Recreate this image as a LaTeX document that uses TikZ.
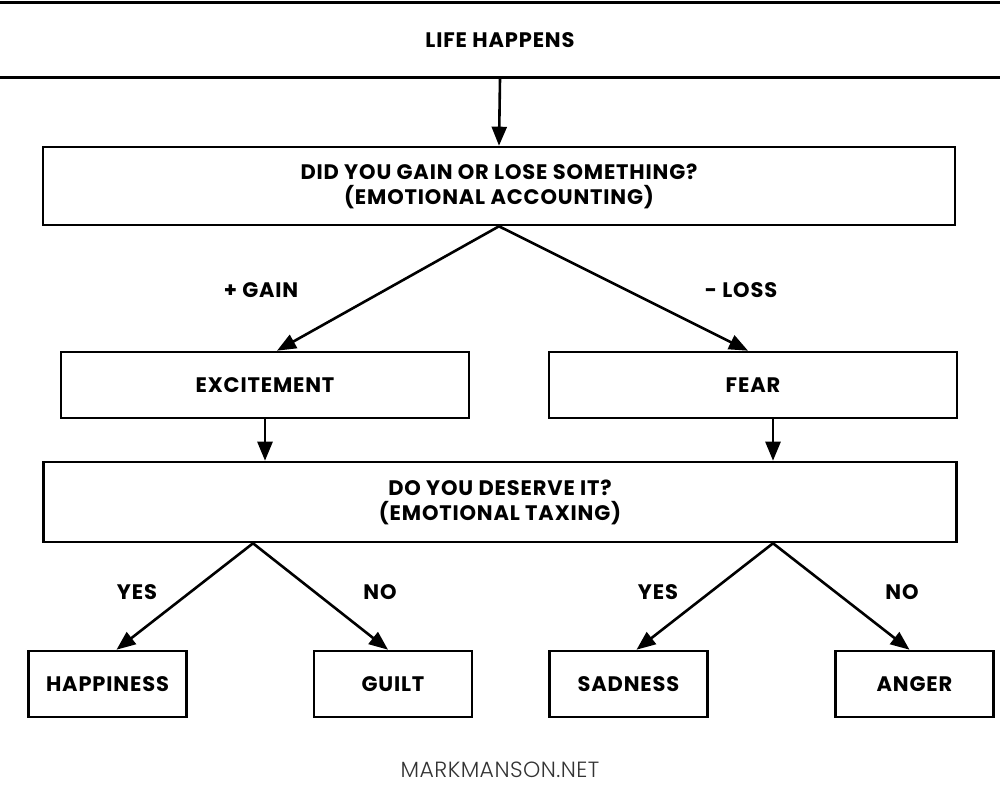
\documentclass[tikz,border=0pt]{standalone}
\usepackage{fontspec}
\setmainfont{Poppins}[LetterSpace=4]
\newfontfamily\sitefont{Poppins Light}[LetterSpace=2]
\usepackage{tikz}
\usetikzlibrary{arrows.meta, positioning, calc}

\begin{document}
\begin{tikzpicture}[
    x=1pt, y=-1pt,
    >={Triangle[length=19pt,width=15pt]},
    box/.style={draw, line width=2.6pt, rectangle, align=center, inner sep=0pt,
        font=\fontsize{21}{25}\selectfont\bfseries},
    wide/.style={box, minimum width=912pt, minimum height=78pt},
    midbox/.style={box, minimum width=408pt, minimum height=66pt},
    leafbox/.style={box, minimum width=158pt, minimum height=66pt},
    lbl/.style={font=\fontsize{21}{25}\selectfont\bfseries},
    conn/.style={->, line width=2.6pt}
]

\clip (0,0) rectangle (1000,800);

% Top question chain
\node[box, minimum width=1040pt, minimum height=75pt] (life) at (500,40) {LIFE HAPPENS};
\node[wide] (acct) at (499,186) {DID YOU GAIN OR LOSE SOMETHING?\\(EMOTIONAL ACCOUNTING)};

% Gain / loss
\node[midbox] (excite) at (265,385) {EXCITEMENT};
\node[midbox] (fear) at (753,385) {FEAR};
\node[lbl] (gain) at (261,290) {+ GAIN};
\node[lbl] (loss) at (741,290) {- LOSS};

% Second question
\node[wide, minimum width=913pt, minimum height=80pt] (tax) at (500,502) {DO YOU DESERVE IT?\\(EMOTIONAL TAXING)};

% Outcomes
\foreach \n/\x/\t in {happy/107.5/HAPPINESS, guilt/393/GUILT, sad/628.5/SADNESS, anger/914.5/ANGER}
    \node[leafbox] (\n) at (\x,684) {\t};

\foreach \n/\x/\t in {yes1/137/YES, no1/380/NO, yes2/658/YES, no2/902/NO}
    \node[lbl] (\n) at (\x,592) {\t};

\node[font=\sitefont\fontsize{22}{25}\selectfont, text=black!80] (site) at (500,770) {MARKMANSON.NET};

% Connections
\coordinate (taxl) at ([xshift=-247pt]tax.south);
\coordinate (taxr) at ([xshift=273pt]tax.south);

\draw[conn] (life.south) -- (acct.north);
\draw[conn] (acct.south) -- ([xshift=12pt]excite.north);
\draw[conn] (acct.south) -- ([xshift=-5pt]fear.north);
\draw[conn] (excite.south) -- (excite.south |- tax.north);
\draw[conn] ([xshift=20pt]fear.south) -- ([xshift=20pt]fear.south |- tax.north);
\draw[conn] (taxl) -- ([xshift=9pt]happy.north);
\draw[conn] (taxl) -- ([xshift=-5pt]guilt.north);
\draw[conn] (taxr) -- ([xshift=8pt]sad.north);
\draw[conn] (taxr) -- ([xshift=-5pt]anger.north);

\end{tikzpicture}
\end{document}
